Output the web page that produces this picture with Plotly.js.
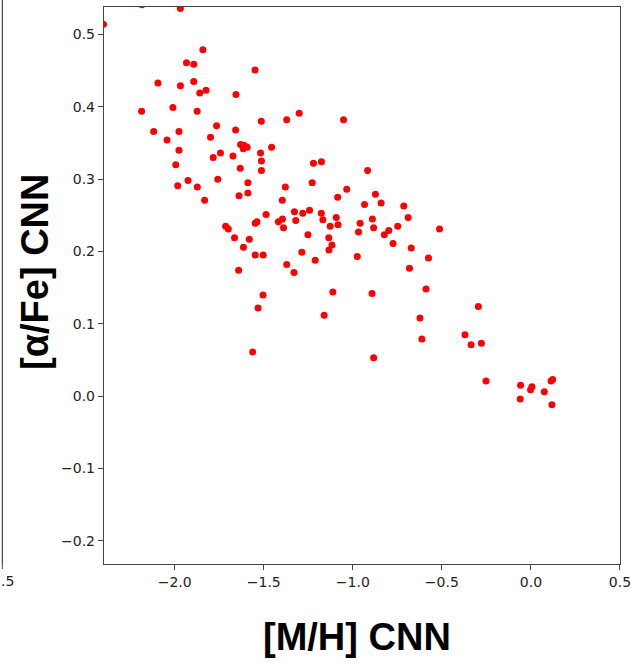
<!DOCTYPE html>
<html>
<head>
<meta charset="utf-8">
<script src="https://cdn.plot.ly/plotly-3.0.1.min.js"></script>
<style>html,body{margin:0;padding:0;background:#fff;}#chart{width:631px;height:666px;}</style>
</head>
<body>
<div id="chart"></div>
<script>
// [M/H] CNN values
const mh = [
  -2.184, -1.968, -2.400, -1.842, -1.934, -1.893, -1.549, -2.094, -1.968, -1.893,
  -1.859, -1.824, -1.656, -2.186, -2.010, -1.874, -1.514, -1.765, -2.118, -1.976,
  -2.043, -1.799, -1.658, -1.630, -1.611, -1.593, -1.615, -1.456, -1.976, -1.743,
  -1.784, -1.673, -1.518, -1.513, -1.994, -1.632, -1.513, -1.983, -1.925, -1.873,
  -1.758, -1.589, -1.589, -1.639, -1.832, -1.487, -1.714, -1.699, -1.548, -1.538,
  -1.664, -1.581, -1.614, -1.548, -1.503, -1.641, -1.504, -1.532, -1.562, -1.371,
  -1.301, -1.052, -1.221, -1.176, -0.917, -1.228, -1.379, -1.034, -1.396, -1.085,
  -0.873, -0.934, -0.841, -0.714, -1.328, -1.243, -1.281, -1.177, -1.168, -1.093,
  -1.418, -1.395, -1.320, -1.389, -1.127, -1.083, -0.890, -0.689, -0.959, -0.883,
  -0.748, -0.513, -1.252, -1.135, -1.117, -1.134, -0.968, -0.798, -0.823, -0.774,
  -0.672, -1.286, -1.211, -1.371, -0.975, -0.575, -0.682, -1.330, -1.112, -0.892,
  -1.161, -0.589, -0.623, -0.612, -0.883, -0.295, -0.370, -0.336, -0.278, -0.252,
  -0.058, -0.060, 0.006, -0.002, 0.075, 0.113, 0.122, 0.118
];
// [alpha/Fe] CNN values
const afe = [
  0.541, 0.536, 0.514, 0.479, 0.461, 0.459, 0.451, 0.433, 0.429, 0.435,
  0.419, 0.423, 0.417, 0.394, 0.399, 0.394, 0.380, 0.374, 0.366, 0.366,
  0.354, 0.358, 0.368, 0.348, 0.347, 0.344, 0.342, 0.344, 0.340, 0.336,
  0.330, 0.332, 0.336, 0.325, 0.320, 0.315, 0.312, 0.291, 0.298, 0.289,
  0.300, 0.295, 0.281, 0.277, 0.271, 0.251, 0.235, 0.231, 0.239, 0.241,
  0.219, 0.217, 0.206, 0.195, 0.195, 0.174, 0.140, 0.122, 0.061, 0.382,
  0.391, 0.382, 0.322, 0.324, 0.312, 0.295, 0.289, 0.286, 0.271, 0.275,
  0.279, 0.265, 0.267, 0.263, 0.255, 0.257, 0.253, 0.253, 0.244, 0.247,
  0.241, 0.245, 0.243, 0.233, 0.235, 0.237, 0.245, 0.247, 0.239, 0.233,
  0.235, 0.231, 0.223, 0.219, 0.209, 0.202, 0.227, 0.229, 0.223, 0.211,
  0.205, 0.199, 0.188, 0.182, 0.193, 0.191, 0.177, 0.171, 0.144, 0.142,
  0.112, 0.148, 0.108, 0.079, 0.053, 0.124, 0.085, 0.071, 0.073, 0.021,
  0.015, -0.004, 0.013, 0.009, 0.006, 0.021, 0.023, -0.012
];
const xTicks = [-2.0, -1.5, -1.0, -0.5, 0.0, 0.5];
const yTicks = [-0.2, -0.1, 0.0, 0.1, 0.2, 0.3, 0.4, 0.5];
const xTitle = "[M/H] CNN";
const yTitle = "[α/Fe] CNN";
const neighbourTick = ".5";

const tickFont = {family: "DejaVu Sans", size: 14, color: "#222"};
const axisCommon = {
  showgrid: false, zeroline: false, showline: true, mirror: true,
  linecolor: "#444", linewidth: 1.2, ticks: "outside", ticklen: 5,
  tickwidth: 1, tickcolor: "#444", tickfont: tickFont, tickformat: ".1f",
  ticklabeloverflow: "allow"
};

const trace = {
  x: mh, y: afe, type: "scatter", mode: "markers",
  marker: {color: "#ff0000", size: 7, line: {width: 0}},
  hoverinfo: "x+y", showlegend: false
};

const layout = {
  width: 631, height: 666,
  margin: {l: 104, r: 11, t: 7, b: 102},
  paper_bgcolor: "#fff", plot_bgcolor: "#fff",
  xaxis: Object.assign({}, axisCommon, {range: [-2.397, 0.5002], tickvals: xTicks}),
  yaxis: Object.assign({}, axisCommon, {range: [-0.232, 0.538], tickvals: yTicks}),
  annotations: [
    {text: xTitle, xref: "paper", yref: "paper", x: 0.49, y: -0.131,
     xanchor: "center", yanchor: "middle", showarrow: false,
     font: {family: "Liberation Sans, Arial, sans-serif", size: 38, color: "#000", weight: "bold"}},
    {text: yTitle, xref: "paper", yref: "paper", x: -0.134, y: 0.524,
     xanchor: "center", yanchor: "middle", textangle: -90, showarrow: false,
     font: {family: "Liberation Sans, Arial, sans-serif", size: 38, color: "#000", weight: "bold"}},
    {text: neighbourTick, xref: "paper", yref: "paper", x: -0.2016, y: -0.031,
     xanchor: "left", yanchor: "middle", showarrow: false, borderpad: 0, font: tickFont}
  ],
  shapes: [
    {type: "line", xref: "paper", yref: "paper", x0: -0.197, x1: -0.197, y0: 0, y1: 1.02,
     line: {color: "#444", width: 1.2}},
    {type: "line", xref: "paper", yref: "paper", x0: -0.197, x1: -0.197, y0: 0, y1: -0.009,
     line: {color: "#444", width: 1}}
  ]
};

Plotly.newPlot("chart", [trace], layout, {displayModeBar: false, staticPlot: true});
</script>
</body>
</html>
